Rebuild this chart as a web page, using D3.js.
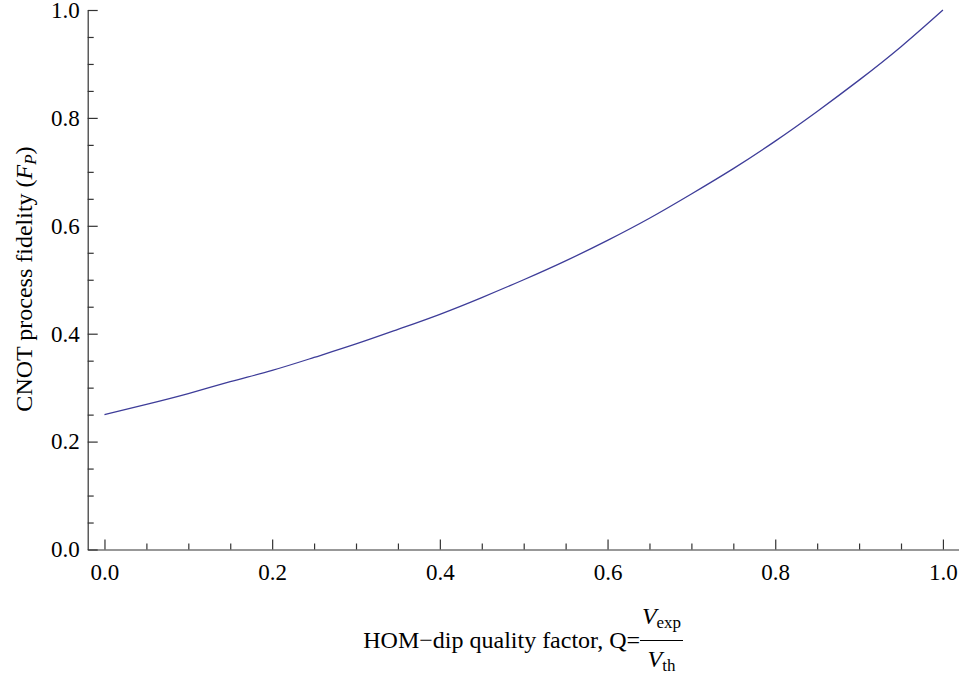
<!DOCTYPE html>
<html>
<head>
<meta charset="utf-8">
<script src="https://cdn.jsdelivr.net/npm/d3@7"></script>
<style>
  html, body { margin: 0; padding: 0; background: #fff; }
  svg { display: block; }
  svg text { font-family: "Liberation Serif", Tinos, "Times New Roman", Times, "DejaVu Serif", serif !important; fill: #000; }
</style>
</head>
<body>
<svg id="chart" width="959" height="675"></svg>
<script>
// ---- data ----
const qValues = [0, 0.05, 0.1, 0.15, 0.2, 0.25, 0.3, 0.35, 0.4, 0.45, 0.5,
                 0.55, 0.6, 0.65, 0.7, 0.75, 0.8, 0.85, 0.9, 0.95, 1.0];
const fidelity = [0.25, 0.269, 0.289, 0.311, 0.332, 0.356, 0.381, 0.408, 0.436, 0.467, 0.5,
                  0.535, 0.573, 0.614, 0.659, 0.706, 0.757, 0.812, 0.870, 0.932, 1.0];
const xMajorTicks = [0, 0.2, 0.4, 0.6, 0.8, 1.0];
const xMinorTicks = [0.05, 0.1, 0.15, 0.25, 0.3, 0.35, 0.45, 0.5, 0.55, 0.65, 0.7, 0.75, 0.85, 0.9, 0.95];
const yMajorTicks = [0, 0.2, 0.4, 0.6, 0.8, 1.0];
const yMinorTicks = [0.05, 0.1, 0.15, 0.25, 0.3, 0.35, 0.45, 0.5, 0.55, 0.65, 0.7, 0.75, 0.85, 0.9, 0.95];

const svg = d3.select("#chart");
const x = d3.scaleLinear().domain([-0.02, 1.02]).range([87.7, 959.7]);
const y = d3.scaleLinear().domain([0, 1]).range([549.5, 10]);
const axisColor = "#333";
const fmt = d3.format(".1f");
const serif = "'Liberation Serif', Tinos, 'Times New Roman', Times, 'DejaVu Serif', serif";

// X axis
const gx = svg.append("g").attr("transform", `translate(0,${y(0)})`);
gx.call(d3.axisBottom(x).tickValues(xMajorTicks).tickFormat(fmt)
        .tickSizeInner(-10).tickSizeOuter(0).tickPadding(14));
gx.append("g").call(d3.axisBottom(x).tickValues(xMinorTicks).tickFormat("")
        .tickSizeInner(-6).tickSizeOuter(0)).select(".domain").remove();

// Y axis
const gy = svg.append("g").attr("transform", `translate(${x(-0.02)},0)`);
gy.call(d3.axisLeft(y).tickValues(yMajorTicks).tickFormat(fmt)
        .tickSizeInner(-10).tickSizeOuter(0).tickPadding(8));
gy.append("g").call(d3.axisLeft(y).tickValues(yMinorTicks).tickFormat("")
        .tickSizeInner(-6).tickSizeOuter(0)).select(".domain").remove();

svg.selectAll("g").attr("font-family", serif);
svg.selectAll(".domain, .tick line").attr("stroke", axisColor).attr("stroke-width", 1.2);
svg.selectAll(".tick text").attr("font-size", 23).attr("fill", "#000");

// Curve
const line = d3.line().x((d, i) => x(qValues[i])).y(d => y(d)).curve(d3.curveNatural);
svg.append("path").datum(fidelity)
   .attr("d", line).attr("fill", "none")
   .attr("stroke", "rgb(62,61,153)").attr("stroke-width", 1.3);

// Y axis title
const yt = svg.append("text")
  .attr("transform", "translate(32,279) rotate(-90)")
  .attr("text-anchor", "middle").attr("font-size", 24).attr("font-family", serif);
yt.append("tspan").text("CNOT process fidelity (");
yt.append("tspan").attr("font-style", "italic").text("F");
yt.append("tspan").attr("font-style", "italic").attr("font-size", 17).attr("dy", 4).text("P");
yt.append("tspan").attr("dy", -4).text(")");

// X axis title with fraction
const fracX0 = 640, fracX1 = 683, fracMid = (fracX0 + fracX1) / 2;
svg.append("text").attr("x", fracX0).attr("y", 648).attr("text-anchor", "end")
   .attr("font-size", 24).attr("font-family", serif).text("HOM\u2212dip quality factor, Q=");
svg.append("line").attr("x1", fracX0).attr("x2", fracX1).attr("y1", 640.5).attr("y2", 640.5)
   .attr("stroke", "#000").attr("stroke-width", 1);
const num = svg.append("text").attr("x", fracMid).attr("y", 624).attr("text-anchor", "middle")
   .attr("font-size", 24).attr("font-family", serif);
num.append("tspan").attr("font-style", "italic").text("V");
num.append("tspan").attr("font-size", 17).attr("dy", 4).text("exp");
const den = svg.append("text").attr("x", fracMid).attr("y", 667).attr("text-anchor", "middle")
   .attr("font-size", 24).attr("font-family", serif);
den.append("tspan").attr("font-style", "italic").text("V");
den.append("tspan").attr("font-size", 17).attr("dy", 4).text("th");
</script>
</body>
</html>
